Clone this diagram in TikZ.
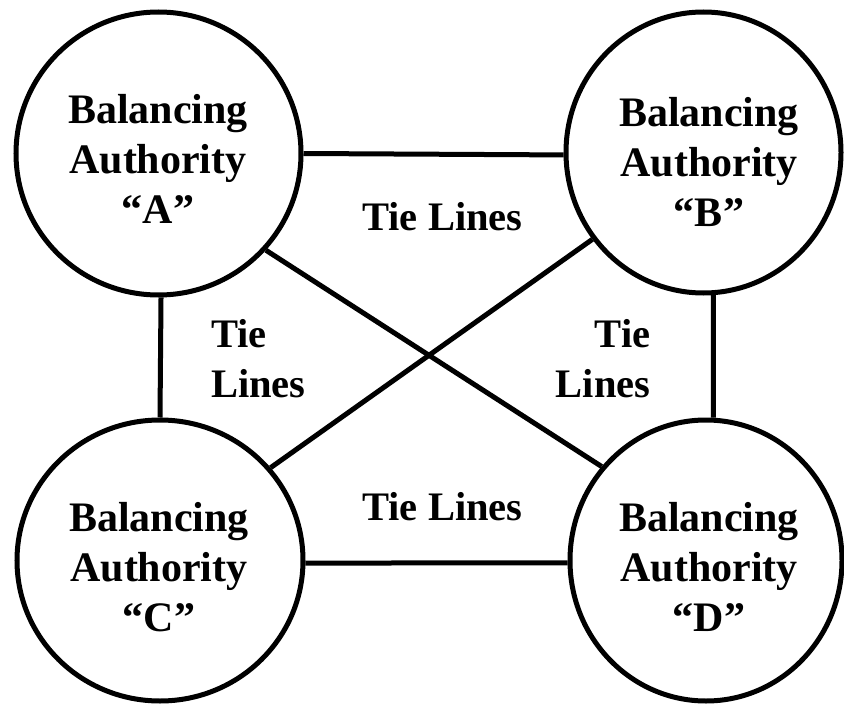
\documentclass[tikz,border=0pt]{standalone}
\usepackage{fontspec}
\IfFontExistsTF{LiberationSerif-Bold.ttf}
  {\newfontfamily\tnrbold{LiberationSerif-Bold.ttf}}
  {\IfFontExistsTF{texgyretermes-bold.otf}
    {\newfontfamily\tnrbold{texgyretermes-bold.otf}}
    {\newfontfamily\tnrbold{Liberation Serif}[UprightFont=* Bold]}}
\usetikzlibrary{shapes.geometric}
\begin{document}
\begin{tikzpicture}[x=1pt,y=-1pt,
  ba/.style={draw=black,line width=5pt,ellipse,inner sep=0pt},
  batext/.style={inner sep=0pt,align=center,font=\tnrbold\fontsize{42}{50}\selectfont},
  tietext/.style={inner sep=0pt,font=\tnrbold\fontsize{40.5}{50}\selectfont},
  tie/.style={draw=black,line width=5pt}]
\useasboundingbox[fill=white] (0,0) rectangle (844,706);
\node[ba,minimum width=285pt,minimum height=283pt] (A) at (158.5,153.5) {};
\node[ba,minimum width=275pt,minimum height=281pt] (B) at (703.5,152.5) {};
\node[ba,minimum width=286pt,minimum height=281pt] (C) at (160,560.5) {};
\node[ba,minimum width=272pt,minimum height=281pt] (D) at (706,560.5) {};
\node[batext] (At) at (158,158.8) {Balancing\\Authority\\“A”};
\node[batext] (Bt) at (709,161.5) {Balancing\\Authority\\“B”};
\node[batext] (Ct) at (159,567.2) {Balancing\\Authority\\“C”};
\node[batext] (Dt) at (709,567.2) {Balancing\\Authority\\“D”};
\draw[tie] (A.-0.6) -- (B.181);
\draw[tie] (A.-89.8) -- (C.90.4);
\draw[tie] (B.-86.7) -- (D.87.7);
\draw[tie] (C.-1) -- (D.181.05);
\draw[tie] (A.-42.5) -- (D.138.1);
\draw[tie] (B.-142.6) -- (C.40.8);
\node[tietext,anchor=base] (T1) at (442.5,230) {Tie Lines};
\node[tietext,anchor=base] (T4) at (442.5,520) {Tie Lines};
\node[tietext,anchor=west,align=left] (T2) at (211,359) {Tie\\Lines};
\node[tietext,anchor=east,align=right] (T3) at (650.5,359) {Tie\\Lines};
\end{tikzpicture}
\end{document}
